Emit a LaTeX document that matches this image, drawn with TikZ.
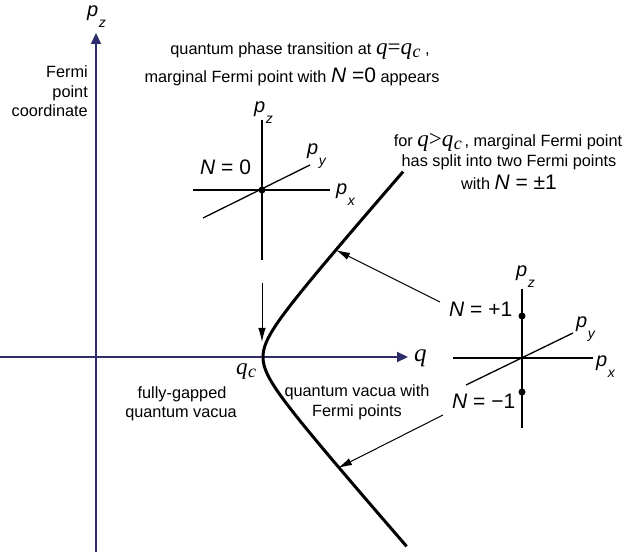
\documentclass[tikz,border=0pt]{standalone}
\usepackage{fontspec}
\setmainfont{Liberation Sans}
\newfontfamily\qfont{Liberation Serif}
\usetikzlibrary{arrows.meta}
\definecolor{axisblue}{RGB}{45,45,105}
\newcommand{\pp}[1]{{\fontsize{20}{20}\selectfont\itshape p\kern0.5pt\raisebox{-11pt}{\fontsize{14}{14}\selectfont #1}}}
\newcommand{\qsym}[1]{{\qfont\itshape\fontsize{#1}{#1}\selectfont q}}
\newcommand{\qcsym}{{\qfont\itshape\fontsize{23}{23}\selectfont q\kern0.5pt\raisebox{-3pt}{\fontsize{18}{18}\selectfont c}}}
\newcommand{\serifrel}[1]{{\qfont\fontsize{23}{23}\selectfont #1}}
\newcommand{\bigf}{\fontsize{21}{21}\selectfont}
\newcommand{\Nsym}{{\bigf\itshape N}}
\begin{document}
\begin{tikzpicture}[x=1pt,y=-1pt,
  mainaxis/.style={draw=axisblue,line width=2.2pt,-{Triangle[length=11pt,width=10pt]}},
  smallaxis/.style={draw=black,line width=1.3pt},
  curve/.style={draw=black,line width=3pt},
  pointer/.style={draw=black,line width=1pt,-{Latex[length=14pt,width=7.5pt]}},
  txt/.style={font=\fontsize{16.3}{19.5}\selectfont,inner sep=0pt},
  lab/.style={inner sep=0pt,anchor=base west},
  fpoint/.style={circle,fill=black,inner sep=0pt,minimum size=7pt}]
\useasboundingbox (0,0) rectangle (633,556);

% main axes
\coordinate (vbot) at (96,552);
\coordinate (vtop) at (96,33);
\coordinate (hleft) at (0,357);
\coordinate (htip) at (408,357);
\draw[mainaxis] (vbot) -- (vtop);
\draw[mainaxis] (hleft) -- (htip);
\node[lab] (pzmain) at (87,17) {\pp{z}};
\node[lab] (qlab) at (414,362) {\qsym{25}};

% Fermi point coordinate
\node[txt,anchor=base east] (fp1) at (88,78) {Fermi};
\node[txt,anchor=base east] (fp2) at (88,97.5) {point};
\node[txt,anchor=base east] (fp3) at (88,117) {coordinate};

% hyperbola
\draw[curve] plot[domain=-2.65:2.63,samples=120,smooth,variable=\t]
  ({263+23.5*(cosh(\t)-1)},{357-26.9*sinh(\t)});
\node[lab] (qclab) at (236,375) {\qcsym};

% small axes 1
\coordinate (a1t) at (262,120); \coordinate (a1b) at (262,260);
\coordinate (a1l) at (193,190); \coordinate (a1r) at (330,190);
\coordinate (a1d) at (203,218); \coordinate (a1u) at (310,165);
\draw[smallaxis] (a1t) -- (a1b);
\draw[smallaxis] (a1l) -- (a1r);
\draw[smallaxis] (a1d) -- (a1u);
\node[fpoint] (dot0) at (262,190) {};
\node[lab] (pz1) at (254,113) {\pp{z}};
\node[lab] (py1) at (307,155) {\pp{y}};
\node[lab] (px1) at (336,195) {\pp{x}};
\node[lab] (n0) at (200,175) {\Nsym{\bigf{} = 0}};

% small axes 2
\coordinate (a2t) at (522,289); \coordinate (a2b) at (522,428);
\coordinate (a2l) at (453,358); \coordinate (a2r) at (593,358);
\coordinate (a2d) at (466,385); \coordinate (a2u) at (573,333);
\draw[smallaxis] (a2t) -- (a2b);
\draw[smallaxis] (a2l) -- (a2r);
\draw[smallaxis] (a2d) -- (a2u);
\node[fpoint] (dotp) at (522,316) {};
\node[fpoint] (dotm) at (522,392) {};
\node[lab] (pz2) at (516,277) {\pp{z}};
\node[lab] (py2) at (576,328) {\pp{y}};
\node[lab] (px2) at (596,367) {\pp{x}};
\node[lab] (np) at (449,317) {\Nsym{\bigf{} = +1}};
\node[lab] (nm) at (452,409) {\Nsym{\bigf{} = \char"2212 1}};

% pointers
\coordinate (v0s) at (262,283); \coordinate (v0e) at (262,342);
\coordinate (upS) at (440,302); \coordinate (upE) at (336,250);
\coordinate (dnS) at (443,415); \coordinate (dnE) at (338,468);
\draw[pointer] (v0s) -- (v0e);
\draw[pointer] (upS) -- (upE);
\draw[pointer] (dnS) -- (dnE);

% texts
\node[txt,anchor=base] (top1) at (300,55) {quantum phase transition at \qsym{23}\serifrel{=}\qcsym\ ,};
\node[txt,anchor=base] (top2) at (292,83) {marginal Fermi point with \Nsym{\bigf{} =0} appears};
\node[txt,anchor=base] (r1) at (508,147) {for \qsym{23}\serifrel{>}\qcsym\,, marginal Fermi point};
\node[txt,anchor=base] (r2) at (509,167) {has split into two Fermi points};
\node[txt,anchor=base] (r3) at (509,190) {with \Nsym{\bigf{} = \textpm1}};
\node[txt,anchor=base] (fg1) at (182,399) {fully-gapped};
\node[txt,anchor=base] (fg2) at (181,418) {quantum vacua};
\node[txt,anchor=base] (qv1) at (357,397) {quantum vacua with};
\node[txt,anchor=base] (qv2) at (357,417) {Fermi points};
\end{tikzpicture}
\end{document}
